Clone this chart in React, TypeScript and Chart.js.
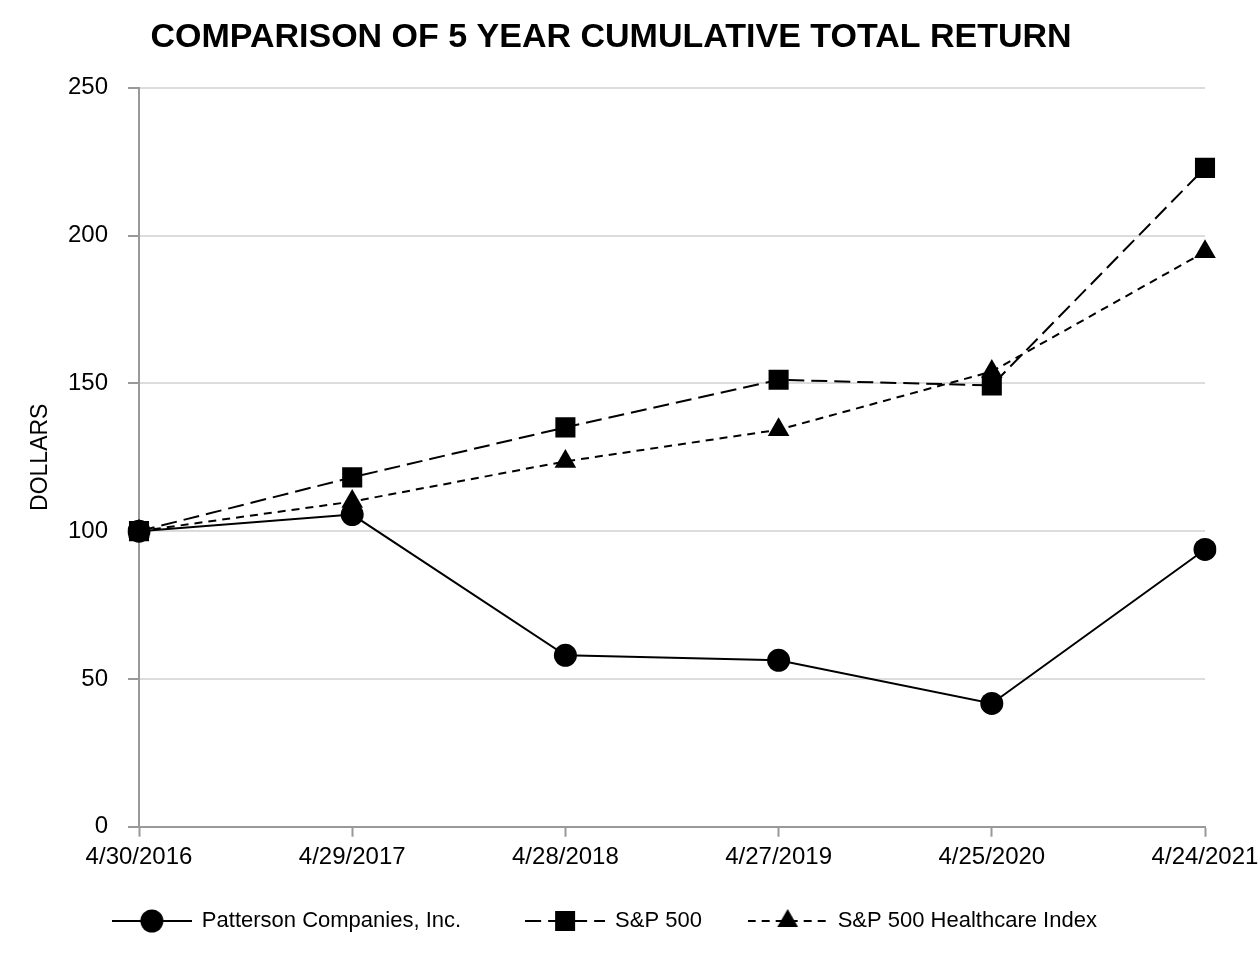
import { useEffect, useRef } from 'react';
import { Chart, registerables } from 'chart.js';

Chart.register(...registerables);

const categories = ['4/30/2016', '4/29/2017', '4/28/2018', '4/27/2019', '4/25/2020', '4/24/2021'];
const pattersonValues = [100, 105.6, 58, 56.3, 41.7, 93.8];
const sp500Values = [100, 118.2, 135.1, 151.2, 149.3, 222.9];
const healthcareValues = [100, 110, 123.6, 134.3, 154, 194.5];
const seriesNames = ['Patterson Companies, Inc.', 'S&P 500', 'S&P 500 Healthcare Index'];
const yMin = 0;
const yMax = 250;
const yStep = 50;
const chartTitle = 'COMPARISON OF 5 YEAR CUMULATIVE TOTAL RETURN';
const yAxisTitle = 'DOLLARS';

const FONT = "'Liberation Sans', Arial, sans-serif";

function makeLegendSymbol(marker: 'circle' | 'rect' | 'triangle', dash: number[]) {
  const c = document.createElement('canvas');
  const w = 80;
  const h = 28;
  c.width = w;
  c.height = h;
  const ctx = c.getContext('2d')!;
  const cy = h / 2;
  const cx = w / 2;
  ctx.strokeStyle = '#000';
  ctx.lineWidth = 2;
  ctx.setLineDash(dash);
  ctx.beginPath();
  ctx.moveTo(0, cy);
  ctx.lineTo(w, cy);
  ctx.stroke();
  ctx.setLineDash([]);
  ctx.fillStyle = '#000';
  ctx.beginPath();
  if (marker === 'circle') {
    ctx.arc(cx, cy, 11.5, 0, Math.PI * 2);
  } else if (marker === 'rect') {
    ctx.rect(cx - 10, cy - 10, 20, 20);
  } else {
    const r = 12;
    ctx.moveTo(cx, cy - r);
    ctx.lineTo(cx + r * Math.sin((2 * Math.PI) / 3), cy - r * Math.cos((2 * Math.PI) / 3));
    ctx.lineTo(cx + r * Math.sin((4 * Math.PI) / 3), cy - r * Math.cos((4 * Math.PI) / 3));
    ctx.closePath();
  }
  ctx.fill();
  return c;
}

// gap (in spaces) after each legend label, to reproduce the uneven legend spacing
const legendTrailingSpaces = [9, 6, 2];

export default function App() {
  const canvasRef = useRef<HTMLCanvasElement | null>(null);

  useEffect(() => {
    if (!canvasRef.current) return;
    Chart.defaults.font.family = FONT;
    Chart.defaults.color = '#000';

    const spDash = [16, 7];
    const hcDash = [8, 6];
    const legendSymbols = [
      makeLegendSymbol('circle', []),
      makeLegendSymbol('rect', spDash),
      makeLegendSymbol('triangle', hcDash),
    ];

    const chart = new Chart(canvasRef.current, {
      type: 'line',
      data: {
        labels: categories,
        datasets: [
          {
            label: seriesNames[0],
            data: pattersonValues,
            borderColor: '#000',
            backgroundColor: '#000',
            borderWidth: 2,
            pointStyle: 'circle',
            pointRadius: 11.5,
            pointHoverRadius: 11.5,
            pointBackgroundColor: '#000',
            pointBorderWidth: 0,
            order: 1,
          },
          {
            label: seriesNames[1],
            data: sp500Values,
            borderColor: '#000',
            backgroundColor: '#000',
            borderWidth: 2,
            borderDash: spDash,
            pointStyle: 'rect',
            pointRadius: 14.2,
            pointHoverRadius: 14.2,
            pointBackgroundColor: '#000',
            pointBorderWidth: 0,
            order: 0,
          },
          {
            label: seriesNames[2],
            data: healthcareValues,
            borderColor: '#000',
            backgroundColor: '#000',
            borderWidth: 2,
            borderDash: hcDash,
            pointStyle: 'triangle',
            pointRadius: 12.5,
            pointHoverRadius: 12.5,
            pointBackgroundColor: '#000',
            pointBorderWidth: 0,
            order: 2,
          },
        ],
      },
      options: {
        animation: false,
        responsive: true,
        maintainAspectRatio: false,
        layout: { padding: { left: 0, right: 38, top: 0, bottom: 18 } },
        plugins: {
          title: {
            display: true,
            text: chartTitle,
            color: '#000',
            font: { family: FONT, size: 34, weight: 'bold' },
            padding: { top: 17, bottom: 30 },
          },
          tooltip: { enabled: false },
          legend: {
            position: 'bottom',
            labels: {
              usePointStyle: true,
              pointStyleWidth: 78,
              padding: 10,
              color: '#000',
              font: { family: FONT, size: 22 },
              generateLabels: (ch: any) => {
                const items = Chart.defaults.plugins.legend.labels.generateLabels(ch);
                items.sort((a: any, b: any) => a.datasetIndex - b.datasetIndex);
                items.forEach((it: any) => {
                  it.pointStyle = legendSymbols[it.datasetIndex];
                  it.text = it.text + ' '.repeat(legendTrailingSpaces[it.datasetIndex]);
                });
                return items;
              },
            },
          },
        },
        scales: {
          x: {
            grid: {
              display: true,
              drawOnChartArea: false,
              drawTicks: true,
              tickLength: 10,
              tickColor: '#999',
              tickWidth: 2,
            },
            border: { display: true, color: '#999', width: 2 },
            ticks: {
              color: '#000',
              font: { family: FONT, size: 24 },
              padding: 6,
              maxRotation: 0,
              autoSkip: false,
            },
            afterFit: (s: any) => {
              s.height += 22.5;
              s.paddingRight = 55;
            },
          },
          y: {
            min: yMin,
            max: yMax,
            grid: {
              color: '#dcdcdc',
              lineWidth: 2,
              drawTicks: true,
              tickLength: 11,
              tickColor: '#999',
              tickWidth: 2,
            },
            border: { display: true, color: '#999', width: 2 },
            ticks: {
              stepSize: yStep,
              color: '#000',
              font: { family: FONT, size: 24 },
              padding: 20,
            },
            title: {
              display: true,
              text: yAxisTitle,
              color: '#000',
              font: { family: FONT, size: 23 },
              padding: { top: 27, bottom: 0 },
            },
            afterFit: (s: any) => {
              s.width = 139;
            },
          },
        },
      },
    });

    return () => chart.destroy();
  }, []);

  return (
    <div style={{ position: 'absolute', left: 0, top: 0, width: 1260, height: 960, background: '#fff' }}>
      <canvas ref={canvasRef} />
    </div>
  );
}
